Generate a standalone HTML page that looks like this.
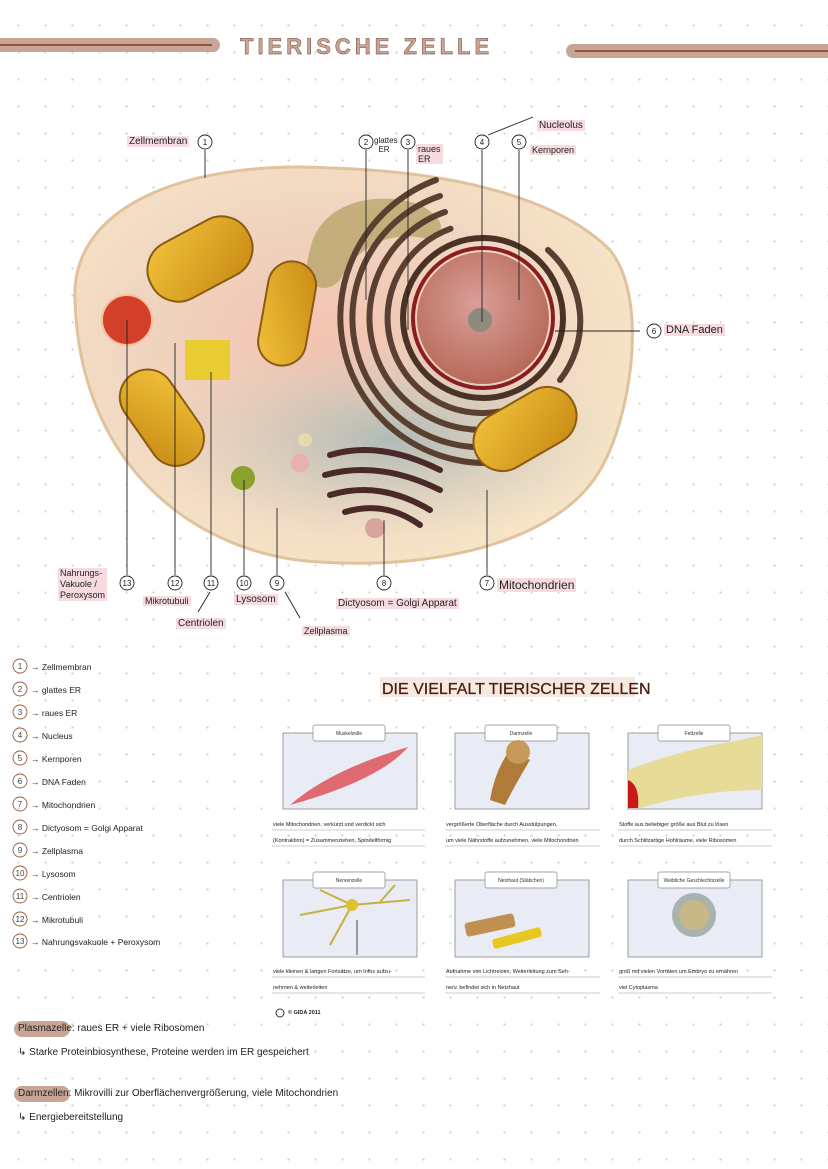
<!DOCTYPE html>
<html><head><meta charset="utf-8"><style>
html,body{margin:0;padding:0}
body{width:828px;height:1169px;position:relative;overflow:hidden;background:#fff;
background-image:radial-gradient(circle,#cfcfcf 0.9px,transparent 1.3px);background-size:27px 27px;background-position:5px 12px;
font-family:"Liberation Sans",sans-serif;color:#222}
.t{position:absolute;font-size:9px;white-space:nowrap}
.hl{background:#f6dce0;padding:0 2px}
</style></head><body>
<svg width="828" height="1169" style="position:absolute;left:0;top:0" font-family="Liberation Sans, sans-serif">
<defs>
<radialGradient id="cy" cx="0.45" cy="0.45" r="0.6"><stop offset="0" stop-color="#f2c2b0"/><stop offset="0.6" stop-color="#f0d6c0"/><stop offset="1" stop-color="#f7e6c8"/></radialGradient>
<radialGradient id="blue" cx="0.5" cy="0.5" r="0.5"><stop offset="0" stop-color="#9fb5b5"/><stop offset="1" stop-color="#c9cfc0" stop-opacity="0"/></radialGradient>
<radialGradient id="nuc" cx="0.45" cy="0.4" r="0.6"><stop offset="0" stop-color="#d99f98"/><stop offset="1" stop-color="#b86a5a"/></radialGradient>
<linearGradient id="mito" x1="0" y1="0" x2="1" y2="1"><stop offset="0" stop-color="#f2c23a"/><stop offset="1" stop-color="#c88a14"/></linearGradient>
</defs>
<rect x="-10" y="38" width="230" height="14" rx="7" fill="#c8a597"/>
<line x1="0" y1="45" x2="212" y2="45" stroke="#7a3b24" stroke-width="1.5"/>
<rect x="566" y="44" width="280" height="14" rx="7" fill="#c8a597"/>
<line x1="575" y1="51" x2="828" y2="51" stroke="#7a3b24" stroke-width="1.5"/>
<text x="240" y="54" font-size="22" font-weight="bold" fill="#c8a597" stroke="#5a2a1a" stroke-width="0.4" letter-spacing="4">TIERISCHE ZELLE</text>
<path d="M75 300 C70 200 200 160 330 168 C460 172 560 200 610 250 C650 300 630 420 600 470 C560 540 440 570 320 562 C200 556 80 470 75 300Z" fill="url(#cy)" stroke="#e0c29e" stroke-width="3"/>
<ellipse cx="390" cy="440" rx="230" ry="100" fill="url(#blue)" opacity="0.8"/>
<path d="M310 250 C320 200 380 190 420 205 C440 215 450 230 430 240 C400 230 360 240 340 280 C320 300 300 280 310 250Z" fill="#b9a56c" opacity="0.8"/>
<!-- ER wrapping nucleus -->
<g fill="none" stroke="#5a4030" stroke-width="6" stroke-linecap="round">
<path d="M450.5 228.7 A95 95 0 0 0 499.5 411.6"/>
<path d="M445 212 A112 112 0 0 0 502 428"/>
<path d="M440 196 A129 129 0 0 0 505 445"/>
<path d="M436 180 A146 146 0 0 0 490 463"/>
<path d="M548 250 A95 95 0 0 1 560 380"/>
</g>
<circle cx="483" cy="318" r="80" fill="none" stroke="#4a3325" stroke-width="6"/>
<circle cx="483" cy="318" r="70" fill="none" stroke="#8a1d22" stroke-width="4"/>
<circle cx="483" cy="318" r="66" fill="url(#nuc)"/>
<circle cx="480" cy="320" r="12" fill="#8d8a80"/>
<g fill="url(#mito)" stroke="#8a5a10" stroke-width="2">
<rect x="145" y="228" width="110" height="62" rx="30" transform="rotate(-28 200 259)"/>
<rect x="235" y="290" width="105" height="48" rx="24" transform="rotate(-80 287 314)"/>
<rect x="110" y="390" width="105" height="55" rx="27" transform="rotate(55 162 417)"/>
<rect x="470" y="400" width="110" height="58" rx="29" transform="rotate(-30 525 429)"/>
</g>
<circle cx="127" cy="320" r="25" fill="#d3402a" stroke="#f5c0a0" stroke-width="2"/>
<rect x="185" y="340" width="45" height="40" fill="#e8cc32"/>
<circle cx="243" cy="478" r="12" fill="#8aa22a"/>
<g fill="none" stroke="#4a2a28" stroke-width="6" stroke-linecap="round">
<path d="M330 455 Q380 440 440 470"/><path d="M325 475 Q380 460 440 490"/><path d="M330 495 Q380 480 430 510"/><path d="M345 512 Q385 500 420 525"/>
</g>
<circle cx="375" cy="528" r="10" fill="#d8a49c"/><circle cx="305" cy="440" r="7" fill="#e8d8b0"/><circle cx="300" cy="463" r="9" fill="#e8b0b0"/>
<g stroke="#222" stroke-width="0.9" fill="none">
<line x1="205" y1="150" x2="205" y2="178"/>
<line x1="366" y1="150" x2="366" y2="300"/>
<line x1="408" y1="150" x2="408" y2="330"/>
<line x1="482" y1="150" x2="482" y2="322"/>
<line x1="488" y1="135" x2="533" y2="117"/>
<line x1="519" y1="150" x2="519" y2="300"/>
<line x1="555" y1="331" x2="640" y2="331"/>
<line x1="487" y1="490" x2="487" y2="575"/>
<line x1="384" y1="520" x2="384" y2="575"/>
<line x1="277" y1="508" x2="277" y2="575"/>
<line x1="244" y1="480" x2="244" y2="575"/>
<line x1="211" y1="372" x2="211" y2="575"/>
<line x1="175" y1="343" x2="175" y2="575"/>
<line x1="127" y1="320" x2="127" y2="575"/>
<line x1="210" y1="592" x2="198" y2="612"/>
<line x1="285" y1="592" x2="300" y2="618"/>
</g>
<g fill="#fff" stroke="#222" stroke-width="0.9">
<circle cx="205" cy="142" r="7"/><circle cx="366" cy="142" r="7"/><circle cx="408" cy="142" r="7"/><circle cx="482" cy="142" r="7"/><circle cx="519" cy="142" r="7"/><circle cx="654" cy="331" r="7"/>
<circle cx="487" cy="583" r="7"/><circle cx="384" cy="583" r="7"/><circle cx="277" cy="583" r="7"/><circle cx="244" cy="583" r="7"/><circle cx="211" cy="583" r="7"/><circle cx="175" cy="583" r="7"/><circle cx="127" cy="583" r="7"/>
</g>
<g font-size="8" text-anchor="middle" fill="#222">
<text x="205" y="145">1</text><text x="366" y="145">2</text><text x="408" y="145">3</text><text x="482" y="145">4</text><text x="519" y="145">5</text><text x="654" y="334">6</text>
<text x="487" y="586">7</text><text x="384" y="586">8</text><text x="277" y="586">9</text><text x="244" y="586">10</text><text x="211" y="586">11</text><text x="175" y="586">12</text><text x="127" y="586">13</text>
</g>
<g fill="#e9ecf4" stroke="#888" stroke-width="0.8">
<rect x="283" y="733" width="134" height="76"/><rect x="455" y="733" width="134" height="76"/><rect x="628" y="733" width="134" height="76"/>
<rect x="283" y="880" width="134" height="77"/><rect x="455" y="880" width="134" height="77"/><rect x="628" y="880" width="134" height="77"/>
</g>
<g fill="#fff" stroke="#888" stroke-width="0.7">
<rect x="313" y="725" width="72" height="16" rx="2"/><rect x="485" y="725" width="72" height="16" rx="2"/><rect x="658" y="725" width="72" height="16" rx="2"/>
<rect x="313" y="872" width="72" height="16" rx="2"/><rect x="485" y="872" width="72" height="16" rx="2"/><rect x="658" y="872" width="72" height="16" rx="2"/>
</g>
<g font-size="5" text-anchor="middle" fill="#333">
<text x="349" y="735">Muskelzelle</text><text x="521" y="735">Darmzelle</text><text x="694" y="735">Fettzelle</text>
<text x="349" y="882">Nervenzelle</text><text x="521" y="882">Netzhaut (Stäbchen)</text><text x="694" y="882">Weibliche Geschlechtszelle</text>
</g>
<path d="M290 805 Q330 770 408 747 Q380 780 290 805Z" fill="#e06a72"/>
<path d="M490 800 Q495 770 510 750 L530 760 Q515 785 505 805Z" fill="#b07a38"/>
<circle cx="518" cy="752" r="12" fill="#c89a58"/>
<path d="M628 770 Q680 750 740 740 L762 735 L762 790 Q700 790 640 808 L628 808Z" fill="#e6dc98"/>
<path d="M628 780 Q640 785 638 808 L628 808Z" fill="#c81818"/>
<g stroke="#c8b040" stroke-width="2" fill="none"><path d="M300 915 L352 905 L410 900"/><path d="M352 905 L330 945"/><path d="M352 905 L320 890"/><path d="M380 902 L395 885"/></g>
<circle cx="352" cy="905" r="6" fill="#e0c030"/>
<g stroke="#222" stroke-width="0.8"><line x1="357" y1="920" x2="357" y2="955"/></g>
<rect x="465" y="918" width="50" height="14" rx="3" fill="#c09050" transform="rotate(-12 490 925)"/>
<rect x="492" y="933" width="50" height="10" rx="3" fill="#e8c820" transform="rotate(-15 517 938)"/>
<circle cx="694" cy="915" r="22" fill="#a9b3ae"/><circle cx="694" cy="915" r="15" fill="#c8b888"/>
<g stroke="#999" stroke-width="0.6">
<line x1="272" y1="830" x2="425" y2="830"/><line x1="272" y1="846" x2="425" y2="846"/>
<line x1="445" y1="830" x2="600" y2="830"/><line x1="445" y1="846" x2="600" y2="846"/>
<line x1="618" y1="830" x2="772" y2="830"/><line x1="618" y1="846" x2="772" y2="846"/>
<line x1="272" y1="977" x2="425" y2="977"/><line x1="272" y1="993" x2="425" y2="993"/>
<line x1="445" y1="977" x2="600" y2="977"/><line x1="445" y1="993" x2="600" y2="993"/>
<line x1="618" y1="977" x2="772" y2="977"/><line x1="618" y1="993" x2="772" y2="993"/>
</g>
<rect x="380" y="677" width="255" height="20" fill="#f1d8cc" opacity="0.6"/>
<text x="382" y="694" font-size="16" fill="#4a1f14" stroke="#4a1f14" stroke-width="0.3">DIE VIELFALT  TIERISCHER ZELLEN</text>
<g fill="none" stroke="#9a5a3a" stroke-width="0.9">
<circle cx="20" cy="666" r="7"/><circle cx="20" cy="689" r="7"/><circle cx="20" cy="712" r="7"/><circle cx="20" cy="735" r="7"/><circle cx="20" cy="758" r="7"/><circle cx="20" cy="781" r="7"/><circle cx="20" cy="804" r="7"/><circle cx="20" cy="827" r="7"/><circle cx="20" cy="850" r="7"/><circle cx="20" cy="873" r="7"/><circle cx="20" cy="896" r="7"/><circle cx="20" cy="919" r="7"/><circle cx="20" cy="941" r="7"/>
</g>
<g font-size="8" text-anchor="middle" fill="#444">
<text x="20" y="669">1</text><text x="20" y="692">2</text><text x="20" y="715">3</text><text x="20" y="738">4</text><text x="20" y="761">5</text><text x="20" y="784">6</text><text x="20" y="807">7</text><text x="20" y="830">8</text><text x="20" y="853">9</text><text x="20" y="876">10</text><text x="20" y="899">11</text><text x="20" y="922">12</text><text x="20" y="944">13</text>
</g>
<g font-size="8.5" fill="#222">
<text x="31" y="670">→ Zellmembran</text><text x="31" y="693">→ glattes ER</text><text x="31" y="716">→ raues ER</text><text x="31" y="739">→ Nucleus</text><text x="31" y="762">→ Kernporen</text><text x="31" y="785">→ DNA Faden</text><text x="31" y="808">→ Mitochondrien</text><text x="31" y="831">→ Dictyosom = Golgi Apparat</text><text x="31" y="854">→ Zellplasma</text><text x="31" y="877">→ Lysosom</text><text x="31" y="900">→ Centriolen</text><text x="31" y="923">→ Mikrotubuli</text><text x="31" y="945">→ Nahrungsvakuole + Peroxysom</text>
</g>
<rect x="14" y="1021" width="56" height="16" rx="8" fill="#c8a597"/>
<rect x="14" y="1086" width="56" height="16" rx="8" fill="#c8a597"/>
<circle cx="280" cy="1013" r="4" fill="none" stroke="#333"/>
</svg>
<div class="t hl" style="left:127px;top:136px;font-size:10px">Zellmembran</div>
<div class="t" style="left:374px;top:136px;font-size:8px;line-height:9px">glattes<br>&nbsp;&nbsp;ER</div>
<div class="t hl" style="left:416px;top:144px;font-size:9px;line-height:10px">raues<br>ER</div>
<div class="t hl" style="left:537px;top:120px;font-size:10px">Nucleolus</div>
<div class="t hl" style="left:530px;top:145px;font-size:9px">Kernporen</div>
<div class="t hl" style="left:664px;top:324px;font-size:11px">DNA Faden</div>
<div class="t hl" style="left:497px;top:578px;font-size:12px">Mitochondrien</div>
<div class="t hl" style="left:336px;top:598px;font-size:10px">Dictyosom = Golgi Apparat</div>
<div class="t hl" style="left:302px;top:626px;font-size:9px">Zellplasma</div>
<div class="t hl" style="left:234px;top:594px;font-size:10px">Lysosom</div>
<div class="t hl" style="left:176px;top:618px;font-size:10px">Centriolen</div>
<div class="t hl" style="left:143px;top:596px;font-size:9px">Mikrotubuli</div>
<div class="t hl" style="left:58px;top:568px;font-size:9px;line-height:11px">Nahrungs-<br>Vakuole /<br>Peroxysom</div>
<div class="t" style="left:273px;top:822px;font-size:5.5px">viele Mitochondrien, verkürzt und verdickt sich</div>
<div class="t" style="left:273px;top:838px;font-size:5.5px">(Kontraktion) = Zusammenziehen, Spindelförmig</div>
<div class="t" style="left:446px;top:822px;font-size:5.5px">vergrößerte Oberfläche durch Ausstülpungen,</div>
<div class="t" style="left:446px;top:838px;font-size:5.5px">um viele Nährstoffe aufzunehmen, viele Mitochondrien</div>
<div class="t" style="left:619px;top:822px;font-size:5.5px">Stoffe aus beliebiger größe aus Blut zu lösen</div>
<div class="t" style="left:619px;top:838px;font-size:5.5px">durch Schlitzartige Hohlräume, viele Ribosomen</div>
<div class="t" style="left:273px;top:969px;font-size:5.5px">viele kleinen &amp; langen Fortsätze, um Infos aufzu-</div>
<div class="t" style="left:273px;top:985px;font-size:5.5px">nehmen &amp; weiterleiten</div>
<div class="t" style="left:446px;top:969px;font-size:5.5px">Aufnahme von Lichtreizen, Weiterleitung zum Seh-</div>
<div class="t" style="left:446px;top:985px;font-size:5.5px">nerv, befindet sich in Netzhaut</div>
<div class="t" style="left:619px;top:969px;font-size:5.5px">groß mit vielen Vorräten um Embryo zu ernähren</div>
<div class="t" style="left:619px;top:985px;font-size:5.5px">viel Cytoplasma</div>
<div class="t" style="left:288px;top:1010px;font-size:5.5px;font-weight:bold">© GIDA 2011</div>
<div class="t" style="left:18px;top:1023px;font-size:10px">Plasmazelle: raues ER + viele Ribosomen</div>
<div class="t" style="left:18px;top:1047px;font-size:10px">↳ Starke Proteinbiosynthese, Proteine werden im ER gespeichert</div>
<div class="t" style="left:18px;top:1088px;font-size:10px">Darmzellen: Mikrovilli zur Oberflächenvergrößerung, viele Mitochondrien</div>
<div class="t" style="left:18px;top:1112px;font-size:10px">↳ Energiebereitstellung</div>
</body></html>
